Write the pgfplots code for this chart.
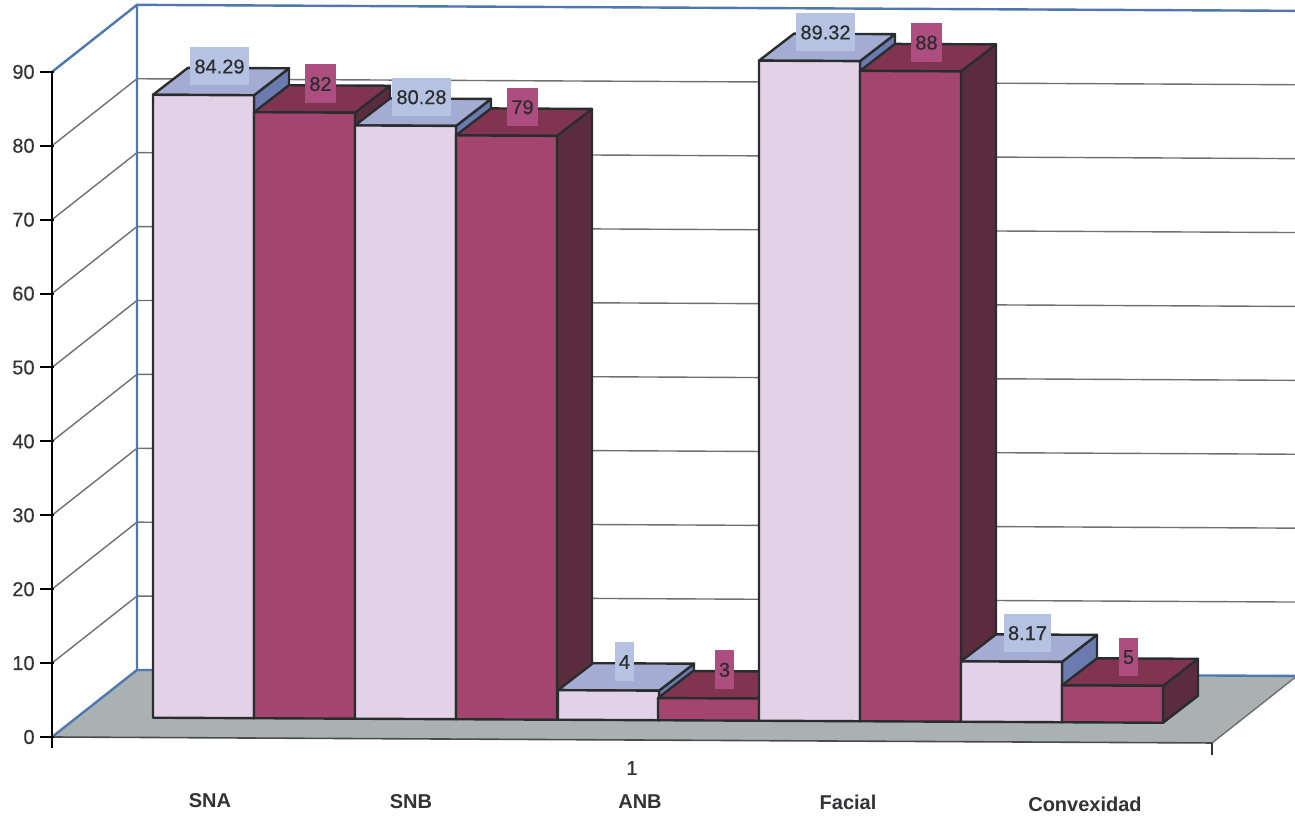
\documentclass[border=0pt]{standalone}
\usepackage{fontspec}
\setmainfont{Liberation Sans}
\newfontfamily\heavyfont[FakeBold=0.4]{Liberation Sans}
\usepackage{pgfplots}
\pgfplotsset{compat=1.18}

\definecolor{inkdark}{HTML}{2A2D2D}
\definecolor{tickink}{HTML}{333335}
\definecolor{wallblue}{HTML}{4F79AE}
\definecolor{gridgrey}{HTML}{6E6F71}
\definecolor{floorgrey}{HTML}{A9B1B2}
\definecolor{lightfront}{HTML}{E3D1E7}
\definecolor{lighttop}{HTML}{A4ACD3}
\definecolor{lightside}{HTML}{6B7BB0}
\definecolor{lightbox}{HTML}{B5C2E2}
\definecolor{darkfront}{HTML}{A3456F}
\definecolor{darktop}{HTML}{80344F}
\definecolor{darkside}{HTML}{5A2C3E}
\definecolor{darkbox}{HTML}{AE4D7F}

\tikzset{
  valuelabel/.style={font=\heavyfont\fontsize{10}{12}\selectfont,text=inkdark,inner xsep=2pt,inner ysep=6pt,text height=7.2pt,text depth=0pt},
  catlabel/.style={font=\fontsize{10}{12}\selectfont\bfseries,text=tickink},
}

% Vertical scale: 7.39 drawing units per chart unit; 27 units of bar depth = 3.65 chart units.
\newcommand{\bardepthx}{35}
\newcommand{\bardepthy}{3.65}
\newcommand{\barwidth}{101}

% One wall gridline: side wall, then back wall with its slight tilt.
\newcommand{\wallline}[1]{%
  \pgfmathsetmacro{\ga}{#1+9.07}%
  \pgfmathsetmacro{\gb}{#1+8.26}%
  \edef\tmp{\noexpand\addplot[draw=gridgrey,line width=0.7pt] coordinates {(52,#1) (137,\ga) (1295,\gb)};}\tmp
}

% One 3-D column: #1 left edge, #2 value, #3 front, #4 top, #5 side.
\newcommand{\column}[5]{%
  \pgfmathsetmacro{\xr}{#1+\barwidth}%
  \pgfmathsetmacro{\xbl}{#1+\bardepthx}%
  \pgfmathsetmacro{\xbr}{\xr+\bardepthx}%
  \pgfmathsetmacro{\bl}{(737-717.7-(#1-153)*0.005)/7.39}%
  \pgfmathsetmacro{\br}{\bl-0.068}%
  \pgfmathsetmacro{\tl}{\bl+#2}%
  \pgfmathsetmacro{\tr}{\br+#2}%
  \pgfmathsetmacro{\tbl}{\tl+\bardepthy}%
  \pgfmathsetmacro{\tbr}{\tr+\bardepthy}%
  \pgfmathsetmacro{\bbr}{\br+\bardepthy}%
  \edef\tmp{%
    \noexpand\addplot[fill=#5,draw=inkdark,line width=1.2pt,line join=round] coordinates {(\xr,\br) (\xbr,\bbr) (\xbr,\tbr) (\xr,\tr)} --cycle;
    \noexpand\addplot[fill=#4,draw=inkdark,line width=1.2pt,line join=round] coordinates {(#1,\tl) (\xr,\tr) (\xbr,\tbr) (\xbl,\tbl)} --cycle;
    \noexpand\addplot[fill=#3,draw=inkdark,line width=1.2pt,line join=round] coordinates {(#1,\bl) (\xr,\br) (\xr,\tr) (#1,\tl)} --cycle;
  }\tmp
}

% Value box above a column, drawn once all columns are in place.
\newcommand{\valuebox}[3]{%
  \pgfmathsetmacro{\xc}{#1+66.5}%
  \pgfmathsetmacro{\ly}{(737-717.7-(#1-153)*0.005)/7.39+#2+3.86}%
  \edef\tmp{\noexpand\node[valuelabel,fill=#3] at (axis cs:\xc,\ly) {#2};}\tmp
}

\begin{document}
\begin{tikzpicture}
\useasboundingbox (0pt,0pt) rectangle (647.5pt,411.5pt);
\begin{axis}[
  scale only axis,
  width=647.5pt,
  height=411.5pt,
  xmin=0, xmax=1295,
  ymin=-11.637, ymax=99.729,
  clip=false,
  axis line style={draw=none},
  xtick=\empty,
  ytick={0,10,20,30,40,50,60,70,80,90},
  ytick pos=left,
  major tick length=0pt,
  yticklabel style={font=\heavyfont\fontsize{10}{12}\selectfont,text=tickink,inner xsep=2.5pt,xshift=20pt},
  /pgf/number format/assume math mode=true,
]
% Floor of the chart
\addplot[fill=floorgrey,draw=none] coordinates {(52,0) (1212,-0.81) (1297,8.26) (137,9.07)} --cycle;
\addplot[draw=gridgrey,line width=0.7pt] coordinates {(1212,-0.81) (1297,8.26)};
\addplot[draw=inkdark!85,line width=0.8pt] coordinates {(52,0) (1212,-0.81)};
\addplot[draw=tickink,line width=0.7pt] coordinates {(1212,-0.81) (1212,-2.44)};

% Gridlines of the side and back walls
\wallline{10}\wallline{20}\wallline{30}\wallline{40}\wallline{50}
\wallline{60}\wallline{70}\wallline{80}\wallline{90}

% Blue edges of the walls
\addplot[draw=wallblue,line width=1.2pt] coordinates {(52,0) (137,9.07) (137,99.07) (1295,98.26)};
\addplot[draw=wallblue,line width=1.2pt] coordinates {(52,90) (137,99.07)};
\addplot[draw=wallblue,line width=1.2pt] coordinates {(137,9.07) (1295,8.26)};

% Columns
\column{153}{84.29}{lightfront}{lighttop}{lightside}
\column{254}{82}{darkfront}{darktop}{darkside}
\column{355}{80.28}{lightfront}{lighttop}{lightside}
\column{456}{79}{darkfront}{darktop}{darkside}
\column{558}{4}{lightfront}{lighttop}{lightside}
\column{658}{3}{darkfront}{darktop}{darkside}
\column{759}{89.32}{lightfront}{lighttop}{lightside}
\column{860}{88}{darkfront}{darktop}{darkside}
\column{961}{8.17}{lightfront}{lighttop}{lightside}
\column{1062}{5}{darkfront}{darktop}{darkside}

% Front edge of the side wall and its ticks
\addplot[draw=black,line width=1.2pt] coordinates {(52,90) (52,45) (52,-1.5)};
\addplot[draw=black,line width=1pt] coordinates {(40,0) (54,0)};
\addplot[draw=black,line width=1pt] coordinates {(40,10) (54,10)};
\addplot[draw=black,line width=1pt] coordinates {(40,20) (54,20)};
\addplot[draw=black,line width=1pt] coordinates {(40,30) (54,30)};
\addplot[draw=black,line width=1pt] coordinates {(40,40) (54,40)};
\addplot[draw=black,line width=1pt] coordinates {(40,50) (54,50)};
\addplot[draw=black,line width=1pt] coordinates {(40,60) (54,60)};
\addplot[draw=black,line width=1pt] coordinates {(40,70) (54,70)};
\addplot[draw=black,line width=1pt] coordinates {(40,80) (54,80)};
\addplot[draw=black,line width=1pt] coordinates {(40,90) (54,90)};

% Value boxes
\valuebox{153}{84.29}{lightbox}
\valuebox{254}{82}{darkbox}
\valuebox{355}{80.28}{lightbox}
\valuebox{456}{79}{darkbox}
\valuebox{558}{4}{lightbox}
\valuebox{658}{3}{darkbox}
\valuebox{759}{89.32}{lightbox}
\valuebox{860}{88}{darkbox}
\valuebox{961}{8.17}{lightbox}
\valuebox{1062}{5}{darkbox}

% Category names under the floor
\node[font=\heavyfont\fontsize{10}{12}\selectfont,text=tickink] at (axis cs:632,-4.2) {1};
\node[catlabel] at (axis cs:210,-8.65) {SNA};
\node[catlabel] at (axis cs:411,-8.75) {SNB};
\node[catlabel] at (axis cs:640,-8.8) {ANB};
\node[catlabel] at (axis cs:848,-8.9) {Facial};
\node[catlabel] at (axis cs:1085,-9.15) {Convexidad};
\end{axis}
\end{tikzpicture}
\end{document}
